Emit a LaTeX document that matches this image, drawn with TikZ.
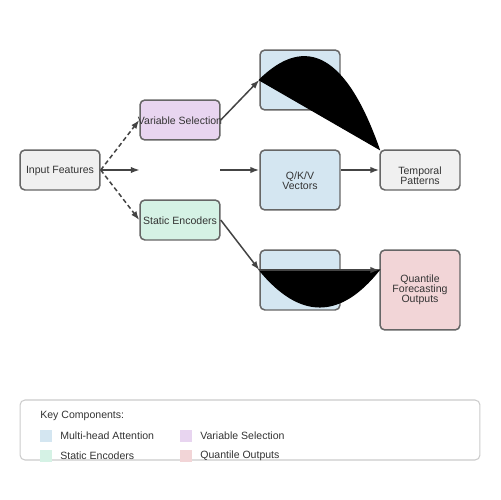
\documentclass[tikz,border=0pt]{standalone}
\usepackage{fontspec}
\setmainfont{Liberation Sans}
\usetikzlibrary{arrows.meta,calc}
\definecolor{txt}{HTML}{333333}
\definecolor{edge}{HTML}{666666}
\definecolor{arr}{HTML}{444444}
\definecolor{cgray}{HTML}{F0F0F0}
\definecolor{cblue}{HTML}{D4E6F1}
\definecolor{cpurple}{HTML}{E8D5F0}
\definecolor{cgreen}{HTML}{D5F2E5}
\definecolor{cred}{HTML}{F2D5D7}
\definecolor{lborder}{HTML}{CCCCCC}
\tikzset{
  box/.style={draw=edge, line width=0.85pt, rounded corners=2.8pt, minimum width=1.6cm, inner sep=0pt, align=center, text=txt, font=\fontsize{6}{5.7}\selectfont},
  conn/.style={draw=arr, line width=0.85pt, -{Latex[length=5pt,width=3.6pt]}},
  dconn/.style={conn, dash pattern=on 2.5pt off 1.7pt},
  blob/.style={draw=black, fill=black, line width=0.6pt},
  legtxt/.style={anchor=west, text=txt, inner sep=0pt, font=\fontsize{6}{7}\selectfont},
  legsq/.style={minimum size=0.24cm, inner sep=0pt, anchor=north west}
}
\begin{document}
\begin{tikzpicture}[x=0.02cm, y=-0.02cm]
\useasboundingbox[fill=white] (0,0) rectangle (500,500);
% nodes
\node[box, fill=cgray, minimum height=0.8cm] (input) at (60,170) {\rule{0pt}{5.5pt}Input Features};
\node[box, fill=cpurple, minimum height=0.8cm] (varsel) at (180,120) {\makebox[0pt]{\rule{0pt}{5.5pt}Variable Selection}};
\node[box, fill=cgreen, minimum height=0.8cm] (static) at (180,220) {\rule{0pt}{5.5pt}Static Encoders};
\node[minimum width=1.6cm, minimum height=0.8cm, inner sep=0pt] (mid) at (180,170) {};
\node[box, fill=cblue, minimum height=1.2cm] (attn1) at (300,80) {};
\node[box, fill=cblue, minimum height=1.2cm] (qkv) at (300,180) {\rule{0pt}{5.5pt}Q/K/V\\Vectors};
\node[box, fill=cblue, minimum height=1.2cm] (attn2) at (300,280) {};
\node[box, fill=cgray, minimum height=0.8cm] (temporal) at (420,170) {\rule{0pt}{10.5pt}Temporal\\Patterns};
\node[box, fill=cred, minimum height=1.6cm] (quant) at (420,290) {Quantile\\Forecasting\\Outputs};
\coordinate (qkvin) at (qkv.west |- mid.east);
\coordinate (qkvout) at (qkv.east |- mid.east);
\coordinate (a2in) at ($(attn2.west)+(0,-10)$);
\coordinate (qin) at (quant.west |- a2in);
% connectors
\draw[dconn] (input.east) -- (varsel.west);
\draw[dconn] (input.east) -- (static.west);
\draw[conn] (input.east) -- (mid.west);
\draw[conn] (mid.east) -- (qkvin);
\draw[conn] (varsel.east) -- (attn1.west);
\draw[conn] (static.east) -- (a2in);
\draw[conn] (qkvout) -- (temporal.west);
\filldraw[blob] (attn1.west) .. controls (306.67,33.33) and (346.67,56.67) .. (temporal.north west) -- cycle;
\filldraw[blob] (a2in) .. controls (300,319.33) and (340,319.33) .. (qin) -- cycle;
\draw[conn] (a2in) -- (qin);
% legend
\node[draw=lborder, line width=0.6pt, rounded corners=2.8pt, minimum width=9.2cm, minimum height=1.2cm, inner sep=0pt] (legend) at (250,430) {};
\node[legtxt] (lkey) at (40,416) {Key Components:};
\node[legsq, fill=cblue] (sq1) at (40,430) {};
\node[legtxt] (l1) at (60,436) {Multi-head Attention};
\node[legsq, fill=cpurple] (sq2) at (180,430) {};
\node[legtxt] (l2) at (200,436) {Variable Selection};
\node[legsq, fill=cgreen] (sq3) at (40,450) {};
\node[legtxt] (l3) at (60,456) {Static Encoders};
\node[legsq, fill=cred] (sq4) at (180,450) {};
\node[legtxt] (l4) at (200,456) {Quantile Outputs};
\end{tikzpicture}
\end{document}
